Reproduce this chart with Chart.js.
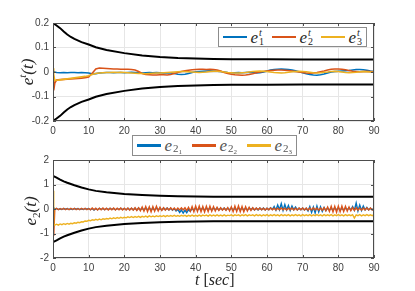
<!DOCTYPE html>
<html>
<head>
<meta charset="utf-8">
<script src="https://cdn.jsdelivr.net/npm/chart.js@4/dist/chart.umd.min.js"></script>
<style>
  body { margin: 0; background: #fff; }
  #wrap { position: relative; width: 415px; height: 291px; overflow: hidden; font-family: "Liberation Serif", serif; }
  .box { position: absolute; left: 0; width: 415px; }
  .lbl { position: absolute; font-style: italic; font-size: 17px; color: #262626; white-space: nowrap; line-height: 20px; }
  .rot { width: 44px; height: 20px; text-align: center; transform: rotate(-90deg); transform-origin: center; }
  .legend { position: absolute; border: 1px solid #8c8c8c; background: #fff; display: flex; align-items: center; box-sizing: border-box; }
  .legend .ln { display: inline-block; height: 2.5px; width: 27px; margin: 0 3px 0 4px; }
  .legend .m { font-style: italic; font-size: 17px; color: #262626; margin-right: 4px; display: inline-flex; align-items: center; line-height: 17px; }
  .ss { display: inline-flex; flex-direction: column; font-size: 10px; line-height: 9px; margin-left: 1px; }
  .sb { font-size: 11px; font-style: normal; position: relative; top: 4px; margin-left: 1px; }
  .sb span { font-size: 7px; position: relative; top: 2px; }
</style>
</head>
<body>
<div id="wrap">
  <div class="box" style="top:0;height:145px"><canvas id="top" width="415" height="145"></canvas></div>
  <div class="box" style="top:137px;height:154px"><canvas id="bot" width="415" height="154"></canvas></div>

  <div class="lbl rot" style="left:0px;top:62px">e<sup style="font-size:11px">t</sup>(t)</div>
  <div class="lbl rot" style="left:9px;top:201px">e<sub style="font-size:11px;font-style:normal">2</sub>(t)</div>
  <div class="lbl" style="left:195px;top:270px;font-size:16px">t <span style="font-style:normal">[</span>sec<span style="font-style:normal">]</span></div>

  <div class="legend" style="left:218px;top:27px;width:149px;height:20px">
    <span class="ln" style="background:#0072BD"></span><span class="m">e<span class="ss"><span>t</span><span style="font-style:normal">1</span></span></span>
    <span class="ln" style="background:#D95319"></span><span class="m">e<span class="ss"><span>t</span><span style="font-style:normal">2</span></span></span>
    <span class="ln" style="background:#EDB120"></span><span class="m">e<span class="ss"><span>t</span><span style="font-style:normal">3</span></span></span>
  </div>
  <div class="legend" style="left:132px;top:135px;width:165px;height:21px">
    <span class="ln" style="background:#0072BD"></span><span class="m" style="color:#555">e<span class="sb">2<span>1</span></span></span>
    <span class="ln" style="background:#D95319;margin-left:6px"></span><span class="m" style="color:#555">e<span class="sb">2<span>2</span></span></span>
    <span class="ln" style="background:#EDB120;margin-left:6px"></span><span class="m" style="color:#555">e<span class="sb">2<span>3</span></span></span>
  </div>
</div>
<script>
// time samples for the top error signals (s)
const t = [0, 0.2, 0.5,
  1,2,3,4,5,6,7,8,9,10, 11,12,13,14,15,16,17,18,19,20, 21,22,23,24,25,26,27,28,29,30,
  31,32,33,34,35,36,37,38,39,40, 41,42,43,44,45,46,47,48,49,50, 51,52,53,54,55,56,57,58,59,60,
  61,62,63,64,65,66,67,68,69,70, 71,72,73,74,75,76,77,78,79,80, 81,82,83,84,85,86,87,88,89,90];

// top plot: e^t components
const et1 = [0, 0.002, 0,
  -0.002,-0.003,-0.002,-0.003,-0.002,-0.002,-0.003,-0.002,-0.003,-0.004,
  -0.008,-0.007,-0.004,-0.003,-0.002,-0.002,-0.003,-0.002,-0.002,-0.003,
  -0.002,-0.001,-0.002,-0.003,-0.004,-0.003,-0.002,-0.003,-0.002,-0.003,
  -0.004,-0.003,-0.004,-0.006,-0.009,-0.010,-0.009,-0.006,-0.002,0.001,
  0.002,0.003,0.004,0.005,0.004,0.003,0.002,0.000,-0.002,-0.003,
  -0.003,-0.002,-0.003,-0.002,-0.001,-0.002,-0.004,-0.003,0.000,0.004,
  0.008,0.010,0.011,0.012,0.011,0.010,0.008,0.005,0.001,-0.003,
  -0.007,-0.010,-0.012,-0.013,-0.011,-0.008,-0.004,0.000,0.002,0.003,
  0.004,0.005,0.006,0.008,0.010,0.010,0.009,0.007,0.004,0.002];
const et2 = [-0.02, -0.075, -0.045,
  -0.033,-0.031,-0.030,-0.029,-0.028,-0.027,-0.026,-0.025,-0.023,-0.020,
  -0.005,0.012,0.016,0.015,0.014,0.013,0.012,0.012,0.011,0.011,
  0.011,0.010,0.008,0.002,-0.006,-0.010,-0.011,-0.012,-0.012,-0.011,
  -0.011,-0.012,-0.010,-0.006,-0.002,0.002,0.005,0.007,0.009,0.010,
  0.011,0.011,0.010,0.011,0.010,0.008,0.004,-0.002,-0.006,-0.009,
  -0.011,-0.012,-0.013,-0.012,-0.010,-0.007,-0.003,0.000,0.002,0.004,
  0.006,0.007,0.008,0.008,0.007,0.006,0.004,0.002,0.000,-0.002,
  -0.004,-0.005,-0.004,-0.002,0.001,0.004,0.008,0.011,0.012,0.012,
  0.011,0.009,0.006,0.003,0.002,0.001,0.002,0.003,0.002,0.001];
const et3 = [0.015, -0.01, -0.035,
  -0.034,-0.032,-0.030,-0.028,-0.026,-0.024,-0.022,-0.020,-0.018,-0.015,
  -0.010,-0.006,-0.004,-0.003,-0.002,-0.002,-0.001,-0.002,-0.001,-0.002,
  -0.003,-0.004,-0.005,-0.006,-0.006,-0.007,-0.006,-0.005,-0.004,-0.004,
  -0.003,-0.002,-0.001,0.000,0.001,0.002,0.002,0.001,0.000,-0.001,
  -0.002,-0.001,0.000,0.002,0.003,0.003,0.002,0.000,-0.002,-0.003,
  -0.004,-0.004,-0.003,-0.002,0.000,0.002,0.003,0.004,0.003,0.002,
  0.000,-0.002,-0.003,-0.004,-0.003,-0.001,0.001,0.002,0.003,0.002,
  0.001,-0.001,-0.003,-0.004,-0.003,-0.001,0.000,0.002,0.003,0.002,
  0.000,-0.002,-0.003,-0.002,-0.001,0.001,0.002,0.001,0.000,-0.001];

// time samples for the bottom error signals (s), half-second steps
const t2 = [0, 0.2,
  0.5,1,1.5,2,2.5,3,3.5,4,4.5,5, 5.5,6,6.5,7,7.5,8,8.5,9,9.5,10,
  10.5,11,11.5,12,12.5,13,13.5,14,14.5,15, 15.5,16,16.5,17,17.5,18,18.5,19,19.5,20,
  20.5,21,21.5,22,22.5,23,23.5,24,24.5,25, 25.5,26,26.5,27,27.5,28,28.5,29,29.5,30,
  30.5,31,31.5,32,32.5,33,33.5,34,34.5,35, 35.5,36,36.5,37,37.5,38,38.5,39,39.5,40,
  40.5,41,41.5,42,42.5,43,43.5,44,44.5,45, 45.5,46,46.5,47,47.5,48,48.5,49,49.5,50,
  50.5,51,51.5,52,52.5,53,53.5,54,54.5,55, 55.5,56,56.5,57,57.5,58,58.5,59,59.5,60,
  60.5,61,61.5,62,62.5,63,63.5,64,64.5,65, 65.5,66,66.5,67,67.5,68,68.5,69,69.5,70,
  70.5,71,71.5,72,72.5,73,73.5,74,74.5,75, 75.5,76,76.5,77,77.5,78,78.5,79,79.5,80,
  80.5,81,81.5,82,82.5,83,83.5,84,84.5,85, 85.5,86,86.5,87,87.5,88,88.5,89,89.5,90];

// bottom plot: e_2 components
const e21 = [0, 0.05,
  -0.02,0.02,-0.02,0.01,-0.02,0.02,-0.01,0.02,-0.02,0.01,
  -0.02,0.02,-0.01,0.02,-0.02,0.01,-0.02,0.02,-0.01,0.02,
  -0.03,0.02,-0.04,0.02,-0.03,0.03,-0.02,0.02,-0.03,0.02,
  -0.02,0.03,-0.02,0.02,-0.03,0.02,-0.02,0.03,-0.02,0.02,
  -0.03,0.03,-0.02,0.03,-0.03,0.03,-0.04,0.04,-0.03,0.03,
  -0.04,0.04,-0.03,0.04,-0.04,0.03,-0.04,0.04,-0.03,0.03,
  -0.04,0.04,-0.03,0.04,-0.04,0.03,-0.05,0.02,-0.08,-0.02,
  -0.14,-0.04,-0.17,-0.05,-0.15,-0.03,-0.10,0.02,-0.04,0.03,
  -0.04,0.03,-0.03,0.04,-0.04,0.03,-0.03,0.04,-0.04,0.03,
  -0.03,0.04,-0.04,0.03,-0.03,0.04,-0.04,0.03,-0.03,0.04,
  -0.04,0.03,-0.04,0.04,-0.03,0.04,-0.04,0.03,-0.04,0.04,
  -0.03,0.04,-0.04,0.03,-0.04,0.04,-0.03,0.04,-0.04,0.03,
  -0.03,0.05,-0.02,0.10,-0.05,0.16,-0.03,0.22,-0.06,0.18,
  -0.04,0.14,-0.06,0.12,-0.03,0.08,-0.04,0.03,-0.03,0.04,
  -0.04,0.03,-0.08,0.10,-0.14,0.08,-0.16,0.12,-0.12,0.09,
  -0.10,0.06,-0.07,0.04,-0.04,0.03,-0.04,0.04,-0.03,0.04,
  -0.04,0.03,-0.04,0.04,-0.03,0.05,-0.04,0.10,-0.05,0.24,
  -0.08,0.16,-0.06,0.12,-0.04,0.06,-0.04,0.03,-0.03,0.03];
const e22 = [0, -1.1,
  -0.02,0.03,-0.03,0.02,-0.02,0.03,-0.03,0.02,-0.03,0.03,
  -0.02,0.03,-0.03,0.02,-0.03,0.03,-0.02,0.03,-0.03,0.02,
  -0.03,0.04,-0.03,0.03,-0.04,0.03,-0.03,0.04,-0.03,0.03,
  -0.04,0.03,-0.03,0.04,-0.04,0.03,-0.03,0.04,-0.04,0.03,
  -0.04,0.04,-0.05,0.04,-0.05,0.05,-0.06,0.05,-0.07,0.08,
  -0.09,0.10,-0.11,0.09,-0.12,0.10,-0.09,0.11,-0.08,0.07,
  -0.06,0.05,-0.05,0.04,-0.04,0.05,-0.04,0.04,-0.05,0.04,
  -0.04,0.05,-0.04,0.05,-0.06,0.07,-0.09,0.10,-0.11,0.12,
  -0.10,0.12,-0.11,0.10,-0.12,0.11,-0.10,0.12,-0.09,0.10,
  -0.08,0.07,-0.06,0.05,-0.05,0.04,-0.05,0.06,-0.08,0.09,
  -0.11,0.12,-0.10,0.13,-0.11,0.10,-0.12,0.09,-0.08,0.07,
  -0.06,0.05,-0.04,0.04,-0.03,0.04,-0.03,0.03,-0.04,0.03,
  -0.03,0.04,-0.03,0.03,-0.04,0.03,-0.03,0.04,-0.03,0.03,
  -0.04,0.03,-0.03,0.04,-0.04,0.03,-0.04,0.04,-0.03,0.04,
  -0.04,0.04,-0.05,0.04,-0.04,0.05,-0.04,0.04,-0.05,0.04,
  -0.05,0.06,-0.07,0.08,-0.10,0.11,-0.12,0.11,-0.13,0.12,
  -0.11,0.12,-0.10,0.11,-0.09,0.08,-0.07,0.06,-0.06,0.05,
  -0.05,0.04,-0.05,0.04,-0.04,0.05,-0.04,0.04,-0.04,0.03];
const e23 = [0.75, -0.6,
  -0.66,-0.62,-0.66,-0.61,-0.64,-0.60,-0.63,-0.59,-0.62,-0.58,
  -0.60,-0.56,-0.58,-0.54,-0.56,-0.52,-0.53,-0.49,-0.50,-0.46,
  -0.48,-0.44,-0.46,-0.42,-0.45,-0.41,-0.44,-0.40,-0.42,-0.39,
  -0.41,-0.37,-0.40,-0.36,-0.39,-0.35,-0.38,-0.34,-0.37,-0.34,
  -0.36,-0.32,-0.35,-0.31,-0.35,-0.31,-0.34,-0.30,-0.34,-0.30,
  -0.33,-0.29,-0.33,-0.28,-0.32,-0.29,-0.32,-0.28,-0.31,-0.28,
  -0.31,-0.27,-0.31,-0.27,-0.30,-0.27,-0.30,-0.26,-0.30,-0.27,
  -0.30,-0.26,-0.29,-0.26,-0.30,-0.26,-0.29,-0.25,-0.29,-0.26,
  -0.29,-0.25,-0.29,-0.25,-0.28,-0.25,-0.29,-0.24,-0.28,-0.25,
  -0.28,-0.24,-0.28,-0.25,-0.28,-0.24,-0.28,-0.25,-0.27,-0.24,
  -0.28,-0.24,-0.27,-0.24,-0.28,-0.24,-0.27,-0.23,-0.28,-0.24,
  -0.27,-0.24,-0.28,-0.23,-0.27,-0.24,-0.28,-0.24,-0.27,-0.23,
  -0.28,-0.24,-0.27,-0.23,-0.27,-0.24,-0.28,-0.23,-0.27,-0.24,
  -0.27,-0.23,-0.28,-0.24,-0.27,-0.23,-0.27,-0.24,-0.28,-0.23,
  -0.27,-0.24,-0.27,-0.23,-0.28,-0.24,-0.27,-0.23,-0.27,-0.24,
  -0.28,-0.23,-0.27,-0.24,-0.27,-0.23,-0.28,-0.24,-0.27,-0.23,
  -0.27,-0.24,-0.28,-0.23,-0.27,-0.24,-0.27,-0.23,-0.37,-0.24,
  -0.27,-0.23,-0.28,-0.24,-0.27,-0.23,-0.27,-0.24,-0.27,-0.23];

// performance bounds (black)
const tb = [0,1,2,3,4,5,6,8,10,12,15,20,25,30,35,40,45,50,60,70,80,90];
const rhoTopUp = [0.2,0.19,0.179,0.165,0.153,0.143,0.135,0.122,0.112,0.101,0.09,0.077,0.067,0.061,0.057,0.055,0.053,0.052,0.052,0.051,0.051,0.051];
const rhoTopLo = [-0.2,-0.19,-0.179,-0.165,-0.153,-0.143,-0.135,-0.122,-0.112,-0.101,-0.09,-0.077,-0.067,-0.061,-0.057,-0.055,-0.053,-0.052,-0.052,-0.051,-0.051,-0.051];
const rhoBotUp = [1.35,1.28,1.2,1.13,1.07,1.02,0.97,0.88,0.8,0.74,0.68,0.61,0.57,0.54,0.52,0.51,0.5,0.5,0.5,0.5,0.5,0.5];
const rhoBotLo = [-1.35,-1.28,-1.2,-1.13,-1.07,-1.02,-0.97,-0.88,-0.8,-0.74,-0.68,-0.61,-0.57,-0.54,-0.52,-0.51,-0.5,-0.5,-0.5,-0.5,-0.5,-0.5];

const xTicks = [0,10,20,30,40,50,60,70,80,90];
const yTicksTop = [-0.2,-0.1,0,0.1,0.2];
const yTicksBot = [-2,-1,0,1,2];

const BLUE = '#0072BD', RED = '#D95319', YEL = '#EDB120';

function pts(xs, ys) { return xs.map((x, i) => ({ x: x, y: ys[i] })); }

function sig(data, color, order, w) {
  return { data: data, borderColor: color, borderWidth: w, pointRadius: 0, fill: false, tension: 0, order: order };
}
function bound(data) {
  return { data: data, borderColor: '#000', borderWidth: 2, pointRadius: 0, fill: false, tension: 0, order: 0 };
}

// axes frame and inward ticks like the original figure
const frame = {
  id: 'frame',
  afterDraw(chart) {
    const { ctx, chartArea: a, scales } = chart;
    ctx.save();
    ctx.strokeStyle = '#4d4d4d';
    ctx.lineWidth = 1;
    ctx.strokeRect(a.left + 0.5, a.top + 0.5, a.right - a.left - 1, a.bottom - a.top - 1);
    ctx.beginPath();
    scales.x.ticks.forEach(tk => {
      const px = Math.round(scales.x.getPixelForValue(tk.value)) + 0.5;
      ctx.moveTo(px, a.bottom); ctx.lineTo(px, a.bottom - 3);
      ctx.moveTo(px, a.top); ctx.lineTo(px, a.top + 3);
    });
    scales.y.ticks.forEach(tk => {
      const py = Math.round(scales.y.getPixelForValue(tk.value)) + 0.5;
      ctx.moveTo(a.left, py); ctx.lineTo(a.left + 3, py);
      ctx.moveTo(a.right, py); ctx.lineTo(a.right - 3, py);
    });
    ctx.stroke();
    ctx.restore();
  }
};

function makeChart(id, datasets, yMin, yMax, yTicks, xH) {
  new Chart(document.getElementById(id).getContext('2d'), {
    type: 'line',
    data: { datasets: datasets },
    plugins: [frame],
    options: {
      responsive: false,
      animation: false,
      devicePixelRatio: 1,
      layout: { padding: { left: 0, right: 41, top: 23, bottom: 0 } },
      plugins: { legend: { display: false }, tooltip: { enabled: false } },
      scales: {
        x: {
          type: 'linear', min: 0, max: 90,
          afterBuildTicks: s => { s.ticks = xTicks.map(v => ({ value: v })); },
          afterFit: s => { s.height = xH; },
          grid: { color: '#e6e6e6', drawTicks: false },
          border: { display: false },
          ticks: { color: '#404040', font: { family: 'Liberation Sans', size: 10 }, padding: 4, maxRotation: 0 }
        },
        y: {
          min: yMin, max: yMax,
          afterBuildTicks: s => { s.ticks = yTicks.map(v => ({ value: v })); },
          afterFit: s => { s.width = 53; },
          grid: { color: '#e6e6e6', drawTicks: false },
          border: { display: false },
          ticks: { color: '#404040', font: { family: 'Liberation Sans', size: 10 }, padding: 4 }
        }
      }
    }
  });
}

makeChart('top', [
  bound(pts(tb, rhoTopUp)), bound(pts(tb, rhoTopLo)),
  sig(pts(t, et1), BLUE, 3, 1.6), sig(pts(t, et2), RED, 2, 1.6), sig(pts(t, et3), YEL, 1, 1.6)
], -0.2, 0.2, yTicksTop, 24);

makeChart('bot', [
  bound(pts(tb, rhoBotUp)), bound(pts(tb, rhoBotLo)),
  sig(pts(t2, e21), BLUE, 3, 1.4), sig(pts(t2, e22), RED, 2, 1.4), sig(pts(t2, e23), YEL, 1, 1.4)
], -2, 2, yTicksBot, 33);
</script>
</body>
</html>
